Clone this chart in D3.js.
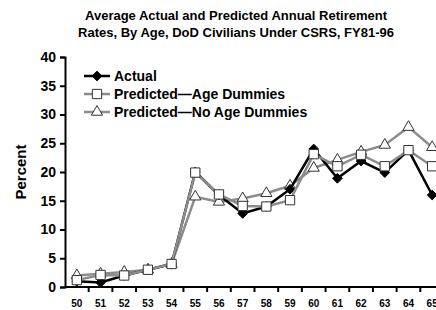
<!DOCTYPE html>
<html>
<head>
<meta charset="utf-8">
<script src="https://cdn.jsdelivr.net/npm/d3@7"></script>
<style>
  body { margin: 0; background: #fff; }
  svg { font-family: 'Liberation Sans', Arial, sans-serif; }
</style>
</head>
<body>
<div id="vis"></div>
<script>
var ages = ['50','51','52','53','54','55','56','57','58','59','60','61','62','63','64','65'];
var actual = [1, 0.8, 2, 3, 4, 20, 16, 12.8, 14, 17, 24, 18.9, 21.9, 19.9, 23.8, 16];
var ageDummies = [1.2, 2.1, 2, 3, 4, 19.9, 16.1, 14.1, 14, 15.1, 23.1, 21, 23, 21, 23.8, 21];
var noAgeDummies = [2, 2.3, 2.6, 3, 4, 15.7, 14.8, 15.4, 16.3, 17.6, 20.7, 22.1, 23.5, 24.7, 27.8, 24.3];
var yTicks = [0, 5, 10, 15, 20, 25, 30, 35, 40];

var width = 436,
	height = 310;

var margin = { left: 65, top: 57, right: -8, bottom: 23 };

var svg = d3.select('#vis')
	.append('svg')
	.attr('width', width)
	.attr('height', height);

var x = d3.scaleBand()
	.domain(ages)
	.range([margin.left, width - margin.right]);

var y = d3.scaleLinear()
	.domain([0, 40])
	.range([height - margin.bottom, margin.top]);

// title
svg.append('text')
	.attr('x', 236).attr('y', 20)
	.attr('text-anchor', 'middle')
	.attr('font-size', 13).attr('font-weight', 'bold')
	.text('Average Actual and Predicted Annual Retirement');
svg.append('text')
	.attr('x', 236).attr('y', 37)
	.attr('text-anchor', 'middle')
	.attr('font-size', 13).attr('font-weight', 'bold')
	.text('Rates, By Age, DoD Civilians Under CSRS, FY81-96');

// y axis
var yAxis = svg.append('g')
	.attr('transform', 'translate(' + margin.left + ',0)')
	.call(d3.axisLeft(y).tickValues(yTicks).tickSize(5).tickPadding(4));
yAxis.selectAll('text').attr('font-size', 14).attr('font-weight', 'bold').attr('fill', '#000');
yAxis.selectAll('line, path').attr('stroke', '#000').attr('stroke-width', 2);

svg.append('text')
	.attr('transform', 'translate(26,' + y(20) + ') rotate(-90)')
	.attr('text-anchor', 'middle')
	.attr('font-size', 15).attr('font-weight', 'bold')
	.text('Percent');

// x axis: ticks at band edges
var xg = svg.append('g')
	.attr('transform', 'translate(0,' + y(0) + ')');
xg.append('line')
	.attr('x1', margin.left).attr('x2', width)
	.attr('stroke', '#000').attr('stroke-width', 2);
xg.selectAll('line.tick')
	.data(ages)
	.enter().append('line')
	.attr('class', 'tick')
	.attr('x1', function(d) { return x(d) + x.bandwidth(); })
	.attr('x2', function(d) { return x(d) + x.bandwidth(); })
	.attr('y1', 0).attr('y2', 5)
	.attr('stroke', '#000').attr('stroke-width', 2);
xg.selectAll('text')
	.data(ages)
	.enter().append('text')
	.attr('x', function(d) { return x(d) + x.bandwidth() / 2; })
	.attr('y', 20)
	.attr('text-anchor', 'middle')
	.attr('font-size', 10).attr('font-weight', 'bold')
	.text(function(d) { return d; });

var series = [
	{ name: 'Actual', values: actual, color: '#000', marker: 'diamond' },
	{ name: 'Predicted\u2014Age Dummies', values: ageDummies, color: '#8c8c8c', marker: 'square' },
	{ name: 'Predicted\u2014No Age Dummies', values: noAgeDummies, color: '#8c8c8c', marker: 'triangle' }
];

var symbols = {
	diamond: d3.symbol().type(d3.symbolDiamond2).size(60),
	square: d3.symbol().type(d3.symbolSquare2).size(110),
	triangle: d3.symbol().type(d3.symbolTriangle2).size(90)
};

function drawMarker(sel, s) {
	sel.append('path')
		.attr('d', symbols[s.marker]())
		.attr('fill', s.marker == 'diamond' ? '#000' : '#fff')
		.attr('stroke', s.marker == 'diamond' ? '#000' : '#333')
		.attr('stroke-width', 1);
}

var line = d3.line()
	.x(function(d, i) { return x(ages[i]) + x.bandwidth() / 2; })
	.y(function(d) { return y(d); });

// triangles at the back, then actual, squares on top
[2, 0, 1].forEach(function(k) {
	var s = series[k];
	var g = svg.append('g');
	g.append('path')
		.attr('d', line(s.values))
		.attr('fill', 'none')
		.attr('stroke', s.color)
		.attr('stroke-width', 2.5);
	s.values.forEach(function(v, i) {
		var m = g.append('g')
			.attr('transform', 'translate(' + (x(ages[i]) + x.bandwidth() / 2) + ',' + y(v) + ')');
		drawMarker(m, s);
	});
});

// legend
var legend = svg.append('g')
	.selectAll('g')
	.data(series)
	.enter().append('g')
	.attr('transform', function(d, i) { return 'translate(84,' + (76 + i * 18) + ')'; });

legend.append('line')
	.attr('x1', 0).attr('x2', 26)
	.attr('stroke', function(d) { return d.color; })
	.attr('stroke-width', 2.5);
legend.each(function(d) {
	var m = d3.select(this).append('g').attr('transform', 'translate(13,0)');
	drawMarker(m, d);
});
legend.append('text')
	.attr('x', 30)
	.attr('dy', '0.36em')
	.attr('font-size', 14).attr('font-weight', 'bold')
	.text(function(d) { return d.name; });
</script>
</body>
</html>
